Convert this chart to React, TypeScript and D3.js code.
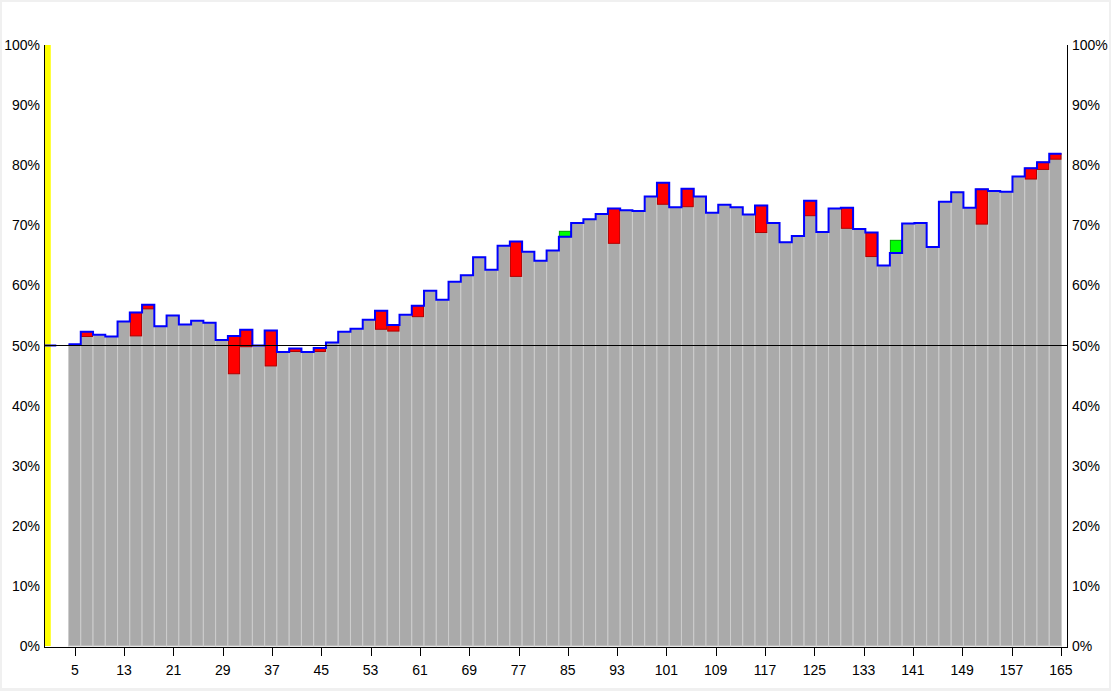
import React from "react";
import * as d3 from "d3";

// x categories (odd steps 1..165)
const categories: number[] = d3.range(1, 166, 2);

// close level of each step (blue step line / gray bar top), in %
const closeValues: (number | null)[] = [
  50.0, null, 50.2, 52.3, 51.8, 51.5, 54.0, 55.5, 56.8, 53.2,
  55.0, 53.5, 54.1, 53.8, 50.9, 51.6, 52.6, 50.0, 52.5, 48.9,
  49.5, 48.9, 49.6, 50.5, 52.3, 52.8, 54.3, 55.8, 53.4, 55.1,
  56.6, 59.1, 57.6, 60.6, 61.7, 64.7, 62.6, 66.6, 67.3, 65.6,
  64.1, 65.8, 68.1, 70.4, 71.0, 71.9, 72.8, 72.5, 72.4, 74.8,
  77.1, 73.0, 76.1, 74.8, 72.1, 73.4, 73.0, 71.8, 73.3, 70.4,
  67.2, 68.2, 74.1, 68.9, 72.8, 72.9, 69.4, 68.8, 63.3, 65.4,
  70.3, 70.4, 66.4, 73.9, 75.5, 72.9, 76.0, 75.7, 75.6, 78.1,
  79.5, 80.5, 81.9,
];

// other end of the coloured box (red when below close, green when above)
const boxValues: (number | null)[] = [
  null, null, null, 51.5, null, null, null, 51.6, 56.1, null,
  null, null, null, null, null, 45.3, 49.8, null, 46.6, null,
  49.0, null, 49.0, null, null, null, null, 52.7, 52.4, null,
  54.8, null, null, null, null, null, null, null, 61.5, null,
  null, null, 69.0, null, null, null, 67.0, null, null, null,
  73.5, null, 73.1, null, null, null, null, null, 68.8, null,
  null, null, 71.6, null, null, 69.5, null, 64.8, null, 67.5,
  null, null, null, null, null, null, 70.2, null, null, null,
  77.7, 79.3, 81.0,
];

// first category is the starting level only (no gray bar)
const grayBarFrom = 5;

const xTicks: number[] = d3.range(5, 166, 8);
const yTicks: number[] = d3.range(0, 101, 10);
const referenceLevel = 50;

const W = 1111;
const H = 691;
const plotLeft = 44;
const plotRight = 1067;
const plotTop = 45;
const plotBottom = 646;

export default function App() {
  const xLin = d3.scaleLinear().domain([0, 166]).range([plotLeft, plotRight]);
  const xBand = d3
    .scaleBand<number>()
    .domain(categories)
    .range([plotLeft, plotRight - 5.5])
    .padding(0);
  const y = d3.scaleLinear().domain([0, 100]).range([plotBottom, plotTop]);
  const bw = xBand.bandwidth();

  const rows = categories.map((c, i) => ({
    c,
    v: closeValues[i],
    b: boxValues[i] ?? null,
  }));

  // step line segments (break on null)
  const segments: { x: number; v: number }[][] = [];
  let cur: { x: number; v: number }[] = [];
  rows.forEach((r) => {
    if (r.v == null) {
      if (cur.length) segments.push(cur);
      cur = [];
    } else {
      cur.push({ x: xBand(r.c)!, v: r.v });
    }
  });
  if (cur.length) segments.push(cur);
  const stepLine = d3
    .line<{ x: number; v: number }>()
    .x((d) => d.x)
    .y((d) => y(d.v))
    .curve(d3.curveStepAfter);
  const paths = segments.map((seg) => {
    const last = seg[seg.length - 1];
    return stepLine([...seg, { x: last.x + bw, v: last.v }])!;
  });

  const font = "Arial, 'Liberation Sans', sans-serif";

  return (
    <svg
      width={W}
      height={H}
      style={{ position: "absolute", left: 0, top: 0, display: "block" }}
    >
      <rect x={0} y={0} width={W} height={H} fill="#f0f0f0" />
      <rect x={2} y={2} width={W - 4} height={H - 5} fill="#ffffff" />

      {/* yellow marker */}
      <rect
        x={xBand(categories[0])!}
        y={y(100)}
        width={bw * 0.55}
        height={y(0) - y(100)}
        fill="#ffff00"
      />

      {/* gray bars */}
      {rows
        .filter((r) => r.v != null && r.c >= grayBarFrom)
        .map((r) => (
          <rect
            key={"g" + r.c}
            x={xBand(r.c)!}
            y={y(r.v as number)}
            width={bw}
            height={y(0) - y(r.v as number)}
            fill="#aaaaaa"
            stroke="#cdcdcd"
            strokeWidth={1}
          />
        ))}

      {/* boxes */}
      {rows
        .filter((r) => r.v != null && r.b != null)
        .map((r) => {
          const v = r.v as number;
          const b = r.b as number;
          const up = b > v;
          return (
            <rect
              key={"b" + r.c}
              x={xBand(r.c)! + 0.5}
              y={y(Math.max(v, b))}
              width={bw - 1}
              height={Math.abs(y(v) - y(b))}
              fill={up ? "#00ff00" : "#ff0000"}
              stroke={up ? "#00a000" : "#b00000"}
              strokeWidth={1}
            />
          );
        })}

      {/* step line */}
      {paths.map((p, i) => (
        <path key={"p" + i} d={p} fill="none" stroke="#0000ff" strokeWidth={2} />
      ))}

      {/* reference line */}
      <line
        x1={plotLeft}
        x2={plotRight}
        y1={y(referenceLevel)}
        y2={y(referenceLevel)}
        stroke="#000"
        strokeWidth={1}
      />

      {/* axes */}
      <line x1={plotLeft + 0.5} x2={plotLeft + 0.5} y1={plotTop} y2={plotBottom + 1} stroke="#000" />
      <line x1={plotRight + 0.5} x2={plotRight + 0.5} y1={plotTop} y2={plotBottom + 1} stroke="#000" />
      <line x1={plotLeft} x2={plotRight + 1} y1={plotBottom + 1.5} y2={plotBottom + 1.5} stroke="#000" />

      {xTicks.map((t) => (
        <g key={"xt" + t}>
          <line
            x1={Math.round(xLin(t)) + 0.5}
            x2={Math.round(xLin(t)) + 0.5}
            y1={plotBottom + 1}
            y2={plotBottom + 10}
            stroke="#000"
          />
          <text
            x={xLin(t)}
            y={plotBottom + 29}
            textAnchor="middle"
            fontFamily={font}
            fontSize={14}
            fill="#000"
          >
            {t}
          </text>
        </g>
      ))}

      {yTicks.map((t) => (
        <g key={"yt" + t}>
          <text
            x={40}
            y={y(t) + 5}
            textAnchor="end"
            fontFamily={font}
            fontSize={14}
            fill="#000"
          >
            {t + "%"}
          </text>
          <text
            x={1072}
            y={y(t) + 5}
            textAnchor="start"
            fontFamily={font}
            fontSize={14}
            fill="#000"
          >
            {t + "%"}
          </text>
        </g>
      ))}
    </svg>
  );
}
